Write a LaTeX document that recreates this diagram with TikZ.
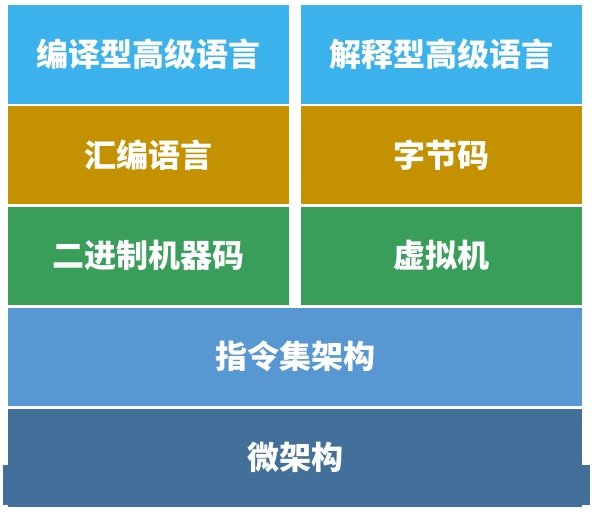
\documentclass[tikz,border=0pt]{standalone}
\usepackage{fontspec}
\newfontfamily\cjk{Noto Sans CJK SC}
\usepackage{xcolor}
\usetikzlibrary{positioning}

\definecolor{hlblue}{RGB}{59,178,235}
\definecolor{asmgold}{RGB}{196,145,0}
\definecolor{mgreen}{RGB}{56,158,90}
\definecolor{isablue}{RGB}{88,152,210}
\definecolor{microblue}{RGB}{66,112,155}

\begin{document}
\begin{tikzpicture}[x=1pt, y=-1pt,
    layer/.style={inner sep=0pt, text=white, font=\cjk\bfseries\fontsize{32}{34}\selectfont},
    half/.style={layer, minimum width=281pt, minimum height=98pt},
    full/.style={layer, minimum width=574pt, minimum height=98pt}]
    % 白色底, 固定画面大小
    \fill[white] (0,0) rectangle (592,519);
    \useasboundingbox (0,0) rectangle (592,519);

    % 左列: 编译型
    \node[half, fill=hlblue] (compiled) at (148.5,54.5) {编译型高级语言};
    \node[half, fill=asmgold] (asm) at (148.5,155) {汇编语言};
    \node[half, fill=mgreen] (binary) at (148.5,255.5) {二进制机器码};

    % 右列: 解释型
    \node[half, fill=hlblue] (interp) at (441.5,54.5) {解释型高级语言};
    \node[half, fill=asmgold] (bytecode) at (441.5,155) {字节码};
    \node[half, fill=mgreen] (vm) at (441.5,255.5) {虚拟机};

    % 底部两层
    \node[full, fill=isablue] (isa) at (295,356.5) {指令集架构};
    \fill[microblue] (3,465) rectangle (590,505);
    \node[full, fill=microblue] (micro) at (295,457.5) {微架构};
\end{tikzpicture}
\end{document}
